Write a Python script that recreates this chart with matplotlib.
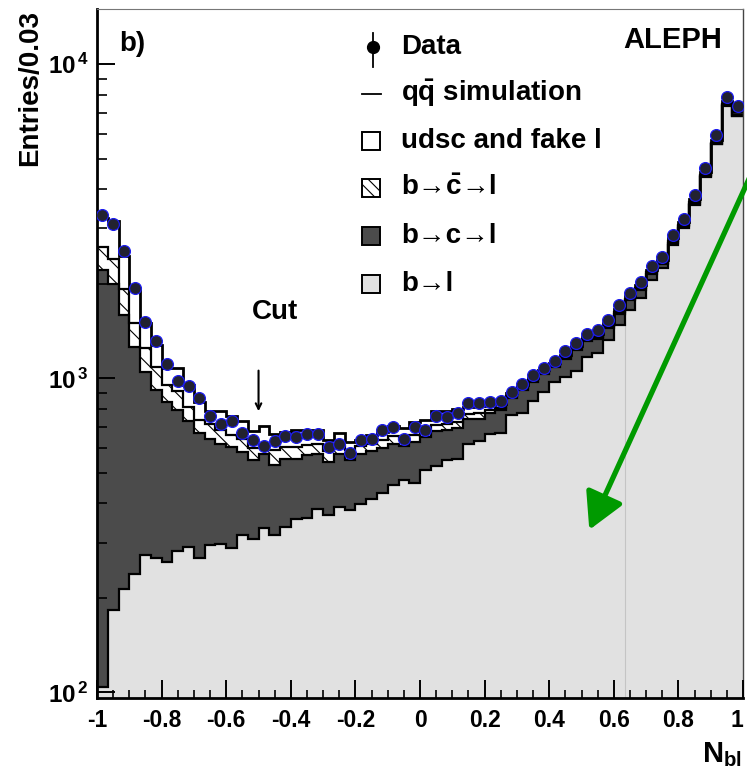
import numpy as np
import matplotlib.pyplot as plt
from matplotlib.patches import Rectangle
from matplotlib.lines import Line2D
from matplotlib.ticker import MultipleLocator, NullFormatter, FixedLocator

plt.rcParams['font.family'] = ['Liberation Sans', 'DejaVu Sans']
plt.rcParams['font.weight'] = 'bold'
plt.rcParams['mathtext.fontset'] = 'custom'
plt.rcParams['mathtext.rm'] = 'Liberation Sans:bold'
plt.rcParams['mathtext.bf'] = 'Liberation Sans:bold'
plt.rcParams['mathtext.it'] = 'Liberation Sans:bold:italic'
plt.rcParams['hatch.linewidth'] = 0.8

# 60 bins from -1 to 1
edges = np.linspace(-1, 1, 61)
centers = 0.5 * (edges[1:] + edges[:-1])

data = [3304, 3111, 2537, 1945, 1511, 1315, 1109, 978, 943, 865,
        757, 713, 731, 670, 638, 607, 632, 654, 650, 663,
        667, 604, 617, 578, 635, 643, 687, 700, 640, 702,
        683, 757, 755, 778, 836, 836, 843, 846, 904, 962,
        1023, 1082, 1133, 1219, 1300, 1388, 1421, 1539, 1708, 1869,
        2022, 2275, 2434, 2851, 3225, 3826, 4677, 5940, 7866, 7363]

udsc_fake = [630, 780, 530, 410, 255, 185, 125, 163, 139, 106,
             74, 102, 98, 89, 81, 84, 77, 70, 78, 72,
             67, 50, 61, 38, 25, 38, 40, 48, 57, 67,
             60, 78, 73, 74, 40, 40, 30, 25, 20, 20,
             20, 20, 20, 20, 20, 25, 25, 28, 30, 35,
             38, 45, 50, 60, 70, 90, 110, 140, 190, 180]

b_cbar_l = [410, 400, 330, 240, 195, 170, 110, 117, 81, 65,
            74, 63, 56, 58, 52, 45, 62, 50, 50, 47,
            45, 44, 37, 39, 34, 32, 36, 35, 33, 32,
            25, 31, 28, 28, 26, 31, 22, 15, 15, 15,
            15, 15, 13, 20, 23, 25, 25, 22, 25, 25,
            27, 25, 25, 30, 30, 30, 40, 40, 30, 30]

b_c_l = [2106, 1807, 1377, 1021, 777, 653, 579, 512, 440, 403,
         346, 324, 315, 264, 240, 241, 210, 220, 198, 208,
         190, 175, 185, 169, 177, 175, 169, 161, 134, 164,
         138, 152, 139, 142, 124, 114, 106, 118, 100, 142,
         125, 126, 114, 137, 168, 140, 130, 130, 125, 120,
         115, 90, 65, 50, 40, 30, 10, 20, 30, 20]

b_l = [104, 183, 213, 239, 273, 267, 261, 283, 290, 267,
       294, 296, 289, 318, 308, 334, 318, 335, 357, 360,
       385, 366, 388, 382, 399, 413, 430, 459, 473, 464,
       512, 527, 548, 555, 620, 630, 667, 672, 765, 778,
       845, 904, 973, 1013, 1059, 1170, 1200, 1320, 1480, 1650,
       1800, 2060, 2240, 2650, 3010, 3570, 4390, 5560, 7390, 6820]

x_ticks = [-1, -0.8, -0.6, -0.4, -0.2, 0, 0.2, 0.4, 0.6, 0.8, 1]
x_ticklabels = ['-1', '-0.8', '-0.6', '-0.4', '-0.2', '0', '0.2', '0.4', '0.6', '0.8', '1']
y_ticks = [1e2, 1e3, 1e4]
y_ticklabels = [r'$\mathbf{10}^{\,\mathbf{2}}$', r'$\mathbf{10}^{\,\mathbf{3}}$',
                r'$\mathbf{10}^{\,\mathbf{4}}$']

# stacked levels
lvl_bl = np.array(b_l, dtype=float)
lvl_bcl = lvl_bl + b_c_l
lvl_bcbar = lvl_bcl + b_cbar_l
lvl_all = lvl_bcbar + udsc_fake

fig = plt.figure(figsize=(7.47, 7.72), dpi=100)
ax = fig.add_axes([0.1299, 0.0959, 0.8648, 0.8925])
ax.set_yscale('log')
ax.set_xlim(-1, 1)
ax.set_ylim(96, 15000)

light = '#e1e1e1'
dark = '#4b4b4b'

ax.stairs(lvl_bl, edges, baseline=1, fill=True, facecolor=light, lw=0, zorder=1)
ax.stairs(lvl_bcl, edges, baseline=lvl_bl, fill=True, facecolor=dark, lw=0, zorder=1)
ax.stairs(lvl_bcbar, edges, baseline=lvl_bcl, fill=True, facecolor='white',
          edgecolor='black', hatch='\\\\', lw=0, zorder=1)
ax.stairs(lvl_all, edges, baseline=lvl_bcbar, fill=True, facecolor='white', lw=0, zorder=1)

# seam line in the b->l fill
ax.vlines(edges[49], 1, min(lvl_bl[48], lvl_bl[49]), color='#c4c4c4', lw=0.8, zorder=1.2)

for lv in (lvl_bl, lvl_bcl, lvl_bcbar):
    ax.stairs(lv, edges, baseline=None, color='black', lw=1.6, zorder=2)
ax.stairs(lvl_all, edges, baseline=None, color='black', lw=2.0, zorder=2)

ax.errorbar(centers, data, yerr=np.sqrt(data), fmt='o', ms=8.5,
            mfc='#222230', mec='#1c1cf0', mew=0.9, ecolor='black',
            elinewidth=1, capsize=0, zorder=5)

# axes styling
ax.set_axisbelow(False)
for s in ('left', 'bottom'):
    ax.spines[s].set_linewidth(2.0)
ax.spines['top'].set_color('#777777')
ax.spines['top'].set_linewidth(0.8)
ax.spines['right'].set_color('#444444')
ax.spines['right'].set_linewidth(1.0)

ax.xaxis.set_major_locator(FixedLocator(x_ticks))
ax.xaxis.set_minor_locator(MultipleLocator(0.05))
xl = ax.set_xticklabels(x_ticklabels)
xl[-1].set_horizontalalignment('right')
ax.yaxis.set_major_locator(FixedLocator(y_ticks))
ax.set_yticklabels(y_ticklabels)
ax.yaxis.set_minor_formatter(NullFormatter())
ax.tick_params(axis='both', which='both', direction='in', top=False, right=False)
ax.tick_params(axis='x', which='major', length=13, width=1.4, labelsize=16.5, pad=8)
ax.tick_params(axis='x', which='minor', length=6, width=1.2)
ax.tick_params(axis='y', which='major', length=13, width=1.4, labelsize=17.5, pad=6)
ax.tick_params(axis='y', which='minor', length=7, width=1.2)

fig.text(0.040, 0.987, 'Entries/0.03', rotation=90, ha='center', va='top',
         fontsize=20, fontweight='bold')
fig.text(0.993, 0.022, r'$\mathbf{N_{bl}}$', ha='right', va='center', fontsize=21)

ax.text(0.035, 0.949, 'b)', transform=ax.transAxes, ha='left', va='center',
        fontsize=20, fontweight='bold')
ax.text(0.967, 0.955, 'ALEPH', transform=ax.transAxes, ha='right', va='center',
        fontsize=21, fontweight='bold')

# cut marker
ax.annotate('', xy=(-0.5, 770), xytext=(-0.5, 1080),
            arrowprops=dict(arrowstyle='->', lw=1.5, color='black'), zorder=6)
ax.text(-0.45, 1622, 'Cut', ha='center', va='center', fontsize=20, fontweight='bold')

# legend drawn by hand (axes fraction)
def ax_xy(px, py):
    return (px - 97) / 646, (698 - py) / 689

box_w, box_h = 18 / 646, 18 / 689
text_x = ax_xy(401, 0)[0]
rows = [47, 94, 141, 188, 236, 284]
labels = ['Data', r'$\mathbf{q\bar{q}}$ simulation', 'udsc and fake l',
          r'b→$\mathbf{\bar{c}}$→l', 'b→c→l', 'b→l']
for py, lab in zip(rows, labels):
    ax.text(text_x, ax_xy(0, py)[1], lab, transform=ax.transAxes, ha='left',
            va='center', fontsize=20, fontweight='bold')

mx, my = ax_xy(373, rows[0])
ax.add_line(Line2D([mx, mx], [ax_xy(0, 33)[1], ax_xy(0, 67)[1]], transform=ax.transAxes,
                   color='black', lw=1.3, clip_on=False))
ax.plot([mx], [my], 'o', ms=8.5, mfc='black', mec='black', transform=ax.transAxes,
        clip_on=False)
ax.add_line(Line2D([ax_xy(362, 0)[0], ax_xy(381, 0)[0]], [ax_xy(0, rows[1])[1]] * 2,
                   transform=ax.transAxes, color='black', lw=1.3))
box_styles = [dict(facecolor='white'), dict(facecolor='white', hatch='\\\\\\'),
              dict(facecolor=dark), dict(facecolor=light)]
for py, st in zip(rows[2:], box_styles):
    x0, y0 = ax_xy(362, py + 9)
    ax.add_patch(Rectangle((x0, y0), box_w, box_h, transform=ax.transAxes,
                           edgecolor='black', lw=1.4, zorder=6, **st))

# green arrow
ax.annotate('', xy=(0.762, 0.244), xytext=(1.01, 0.755), xycoords='axes fraction',
            textcoords='axes fraction', annotation_clip=False,
            arrowprops=dict(arrowstyle='-|>,head_length=1.0,head_width=0.55',
                            mutation_scale=22, color='#009a00', lw=3.8,
                            clip_on=False, shrinkA=0, shrinkB=0))

fig.savefig('out.png', dpi=100)
